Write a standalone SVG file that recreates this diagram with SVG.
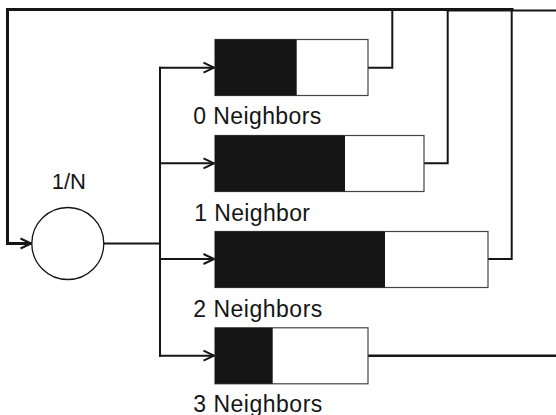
<svg xmlns="http://www.w3.org/2000/svg" width="556" height="415" viewBox="0 0 556 415">
<defs>
<style>
.bar{fill:#fff;stroke:#444;stroke-width:1.2}
.fill{fill:#151515}
.c{fill:none;stroke:#151515;stroke-width:2;stroke-linejoin:miter;stroke-linecap:square}
.thick{stroke-width:3}
.t{font-family:"Liberation Sans",Arial,Helvetica,sans-serif;font-size:23px;fill:#151515}
</style>
<marker id="ah" markerUnits="userSpaceOnUse" markerWidth="14" markerHeight="14" viewBox="0 0 14 14" refX="12" refY="7" orient="auto">
<path d="M1.5,2 L12,7 L1.5,12" fill="none" stroke="#151515" stroke-width="2"/>
</marker>
</defs>
<rect width="556" height="415" fill="#fff"/>
<g id="connectors">
<path class="c thick" d="M512,9.5 H7.5 V243.5 H31" marker-end="url(#ah)"/>
<path class="c" d="M447.7,10.5 H556"/>
<path class="c" d="M104,243.5 H160"/>
<path class="c" d="M160,67.7 V355.7"/>
<path class="c" d="M160,67.7 H214" marker-end="url(#ah)"/>
<path class="c" d="M160,163.3 H214" marker-end="url(#ah)"/>
<path class="c" d="M160,259 H214" marker-end="url(#ah)"/>
<path class="c" d="M160,355.7 H214" marker-end="url(#ah)"/>
<path class="c" d="M368,67.7 H392.3 V9.5"/>
<path class="c" d="M424,163.3 H447.7 V10"/>
<path class="c" d="M488,259 H511.7 V9.5"/>
<path class="c" d="M368,355.7 H556" style="stroke-width:2.5"/>
</g>
<g id="divider">
<circle cx="67.8" cy="243.5" r="36" fill="#fff" stroke="#151515" stroke-width="1.3"/>
<text class="t" x="51.7" y="189.3" style="font-size:22px">1/N</text>
</g>
<g id="n0">
<rect class="bar" x="215" y="39.5" width="153" height="56"/>
<rect class="fill" x="215" y="39.5" width="81.7" height="56"/>
<text class="t" x="193.3" y="124" textLength="128" lengthAdjust="spacing">0 Neighbors</text>
</g>
<g id="n1">
<rect class="bar" x="215" y="135.5" width="209" height="56"/>
<rect class="fill" x="215" y="135.5" width="130" height="56"/>
<text class="t" x="194.3" y="221" textLength="115.7" lengthAdjust="spacing">1 Neighbor</text>
</g>
<g id="n2">
<rect class="bar" x="215" y="231.5" width="273" height="56"/>
<rect class="fill" x="215" y="231.5" width="170" height="56"/>
<text class="t" x="193.3" y="316.7" textLength="129" lengthAdjust="spacing">2 Neighbors</text>
</g>
<g id="n3">
<rect class="bar" x="215" y="327.8" width="153" height="56"/>
<rect class="fill" x="215" y="327.8" width="57.7" height="56"/>
<text class="t" x="193.3" y="411.5" textLength="129" lengthAdjust="spacing">3 Neighbors</text>
</g>
</svg>
